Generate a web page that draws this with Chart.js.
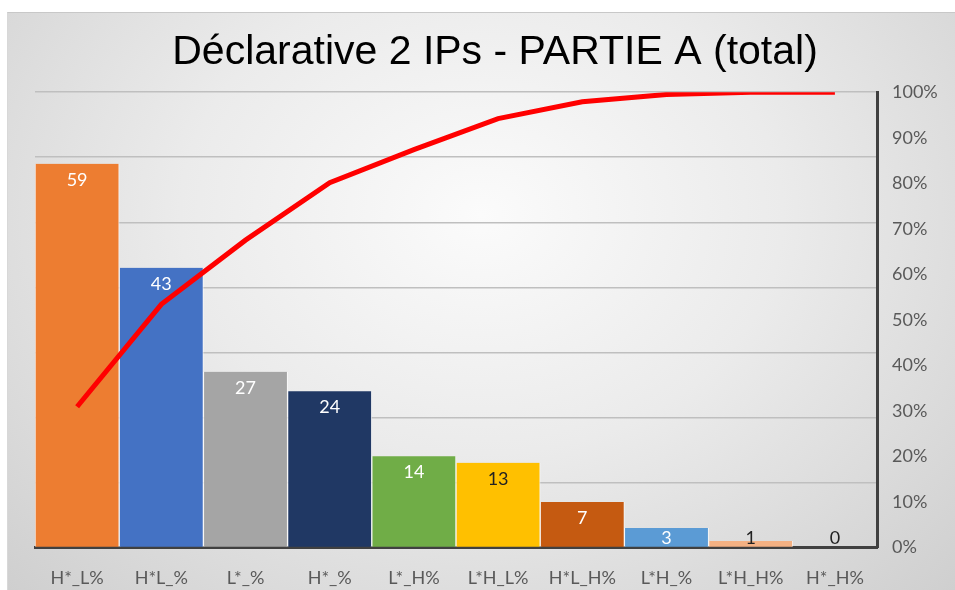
<!DOCTYPE html>
<html>
<head>
<meta charset="utf-8">
<script src="https://cdn.jsdelivr.net/npm/chart.js@4"></script>
<style>
  html, body { margin: 0; padding: 0; background: #fff; }
  #wrap { position: relative; width: 955px; height: 590px; }
  #bg {
    position: absolute; left: 7px; top: 12px; right: 0; bottom: 0;
    border-top: 1px solid #c8c8c8; border-left: 1px solid #d8d8d8;
    background: radial-gradient(ellipse at 50% 35%, #fbfbfb 0%, #ebebeb 45%, #cfcfcf 100%);
  }
  canvas { position: absolute; left: 0; top: 0; }
</style>
</head>
<body>
<div id="wrap">
  <div id="bg"></div>
  <canvas id="paretoChart" width="955" height="590"></canvas>
</div>
<script>
// Categories and values
const categories = ['H*_L%', 'H*L_%', 'L*_%', 'H*_%', 'L*_H%', 'L*H_L%', 'H*L_H%', 'L*H_%', 'L*H_H%', 'H*_H%'];
const counts = [59, 43, 27, 24, 14, 13, 7, 3, 1, 0];
const barColors = ['#ED7D31', '#4472C4', '#A5A5A5', '#203864', '#70AD47', '#FFC000', '#C55A11', '#5B9BD5', '#F4B183', '#F4B183'];
const labelColors = ['#fff', '#fff', '#fff', '#fff', '#fff', '#222', '#fff', '#fff', '#222', '#222'];
// cumulative share (0..1) for the red line
const cumulative = [0.309, 0.534, 0.675, 0.801, 0.874, 0.942, 0.979, 0.995, 1.0, 1.0];
const percentTicks = [0, 0.1, 0.2, 0.3, 0.4, 0.5, 0.6, 0.7, 0.8, 0.9, 1.0];

// value labels at the top inside each bar
const barLabels = {
    id: 'barLabels',
    afterDatasetsDraw(chart) {
        const meta = chart.getDatasetMeta(1);
        const ctx = chart.ctx;
        const base = chart.chartArea.bottom;
        ctx.save();
        ctx.font = '18px Lato, "Noto Sans", sans-serif';
        ctx.textAlign = 'center';
        ctx.textBaseline = 'middle';
        meta.data.forEach(function(bar, i) {
            const y = Math.min(bar.y + 16, base - 9);
            ctx.fillStyle = labelColors[i];
            ctx.fillText(String(counts[i]), bar.x, y);
        });
        ctx.restore();
    }
};

const ctx = document.getElementById('paretoChart').getContext('2d');
new Chart(ctx, {
    type: 'bar',
    data: {
        labels: categories,
        datasets: [
            {
                type: 'line',
                data: cumulative,
                yAxisID: 'y1',
                borderColor: '#FF0000',
                borderWidth: 5,
                pointRadius: 0,
                tension: 0,
                order: 0
            },
            {
                type: 'bar',
                data: counts,
                yAxisID: 'y',
                backgroundColor: barColors,
                borderColor: 'rgba(255,255,255,0.7)',
                borderWidth: { left: 1, right: 1, top: 0, bottom: 0 },
                categoryPercentage: 1,
                barPercentage: 1,
                order: 1
            }
        ]
    },
    options: {
        responsive: false,
        animation: false,
        layout: { padding: { left: 35, right: 0, top: 0, bottom: -19 } },
        plugins: {
            legend: { display: false },
            tooltip: { enabled: false },
            title: {
                display: true,
                text: 'Déclarative 2 IPs - PARTIE A (total)',
                color: '#000',
                font: { family: '"Liberation Sans", Arial, sans-serif', size: 41, weight: 'normal' },
                padding: { top: 28, bottom: 15 }
            }
        },
        scales: {
            x: {
                grid: { display: false, drawTicks: false },
                border: { display: true, color: '#404040', width: 3 },
                ticks: {
                    color: '#595959',
                    font: { family: 'Lato, "Noto Sans", sans-serif', size: 18 },
                    padding: 20,
                    maxRotation: 0
                }
            },
            y: {
                position: 'left',
                min: 0,
                max: 70,
                ticks: { display: false, stepSize: 10 },
                grid: { color: '#bfbfbf', lineWidth: 1.5, drawTicks: false },
                border: { display: false },
                afterFit: function(scale) { scale.width = 0; }
            },
            y1: {
                position: 'right',
                min: 0,
                max: 1,
                afterBuildTicks: function(scale) {
                    scale.ticks = percentTicks.map(v => ({ value: v }));
                },
                ticks: {
                    color: '#595959',
                    font: { family: 'Lato, "Noto Sans", sans-serif', size: 18 },
                    padding: 15,
                    callback: v => Math.round(v * 100) + '%'
                },
                grid: { drawOnChartArea: false, drawTicks: false },
                border: { display: true, color: '#404040', width: 3 },
                afterFit: function(scale) { scale.width = 78; }
            }
        }
    },
    plugins: [barLabels]
});
</script>
</body>
</html>
